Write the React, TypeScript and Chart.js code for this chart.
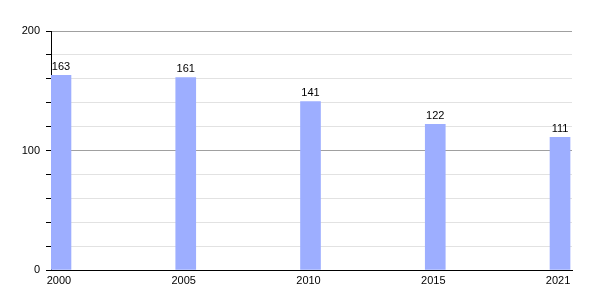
import React, { useEffect, useRef } from "react";
import { Chart, registerables } from "chart.js";
Chart.register(...registerables);

const years = ["2000", "2005", "2010", "2015", "2021"];
const population = [163, 161, 141, 122, 111];
const yMajorStep = 100;

const FONT = "'Liberation Sans', Arial, sans-serif";

export default function App() {
  const ref = useRef<HTMLCanvasElement>(null);
  useEffect(() => {
    document.body.style.margin = "0";
    const canvas = ref.current!;
    const labelPlugin = {
      id: "valueLabels",
      afterDatasetsDraw(chart: any) {
        const c = chart.ctx;
        const meta = chart.getDatasetMeta(0);
        c.save();
        c.font = `11px ${FONT}`;
        c.fillStyle = "#000";
        c.textAlign = "center";
        c.textBaseline = "bottom";
        meta.data.forEach((el: any, i: number) => {
          c.fillText(String(population[i]), el.x, el.y - 3);
        });
        c.restore();
      },
    };
    const chart = new Chart(canvas, {
      type: "bar",
      data: {
        datasets: [
          {
            data: population.map((v, i) => ({ x: i, y: v })),
            backgroundColor: "#9daeff",
            barThickness: 20,
          },
        ],
      },
      options: {
        animation: false,
        responsive: false,
        maintainAspectRatio: false,
        layout: { padding: { top: 31, right: 28, left: 0, bottom: 0 } },
        plugins: { legend: { display: false }, tooltip: { enabled: false } },
        scales: {
          x: {
            type: "linear",
            offset: false,
            min: -0.08,
            max: 4.096,
            afterBuildTicks: (s: any) => {
              s.ticks = years.map((_, i) => ({ value: i }));
            },
            ticks: {
              callback: (v: any) => years[v as number] ?? "",
              font: { family: FONT, size: 11 },
              color: "#000",
              padding: 4,
              maxRotation: 0,
              autoSkip: false,
              labelOffset: -2,
            },
            grid: { display: false, drawTicks: false, offset: false },
            border: { display: true, color: "#000", width: 1 },
            afterFit: (s: any) => {
              s.height = 30;
            },
          },
          y: {
            min: 0,
            max: 200,
            ticks: {
              stepSize: 20,
              callback: (v: any) => ((v as number) % yMajorStep === 0 ? String(v) : ""),
              font: { family: FONT, size: 11 },
              color: "#000",
              padding: 6,
            },
            grid: {
              color: (ctx: any) =>
                ctx.tick && ctx.tick.value % yMajorStep === 0 ? "#a0a0a0" : "#e2e2e2",
              tickColor: "#000",
              tickLength: 5,
            },
            border: { color: "#000", width: 1 },
            afterFit: (s: any) => {
              s.width = 51;
            },
          },
        },
      },
      plugins: [labelPlugin],
    });
    return () => chart.destroy();
  }, []);
  return (
    <div style={{ position: "fixed", left: 0, top: 0, width: 600, height: 300 }}>
      <canvas ref={ref} width={600} height={300} style={{ width: 600, height: 300 }} />
    </div>
  );
}
